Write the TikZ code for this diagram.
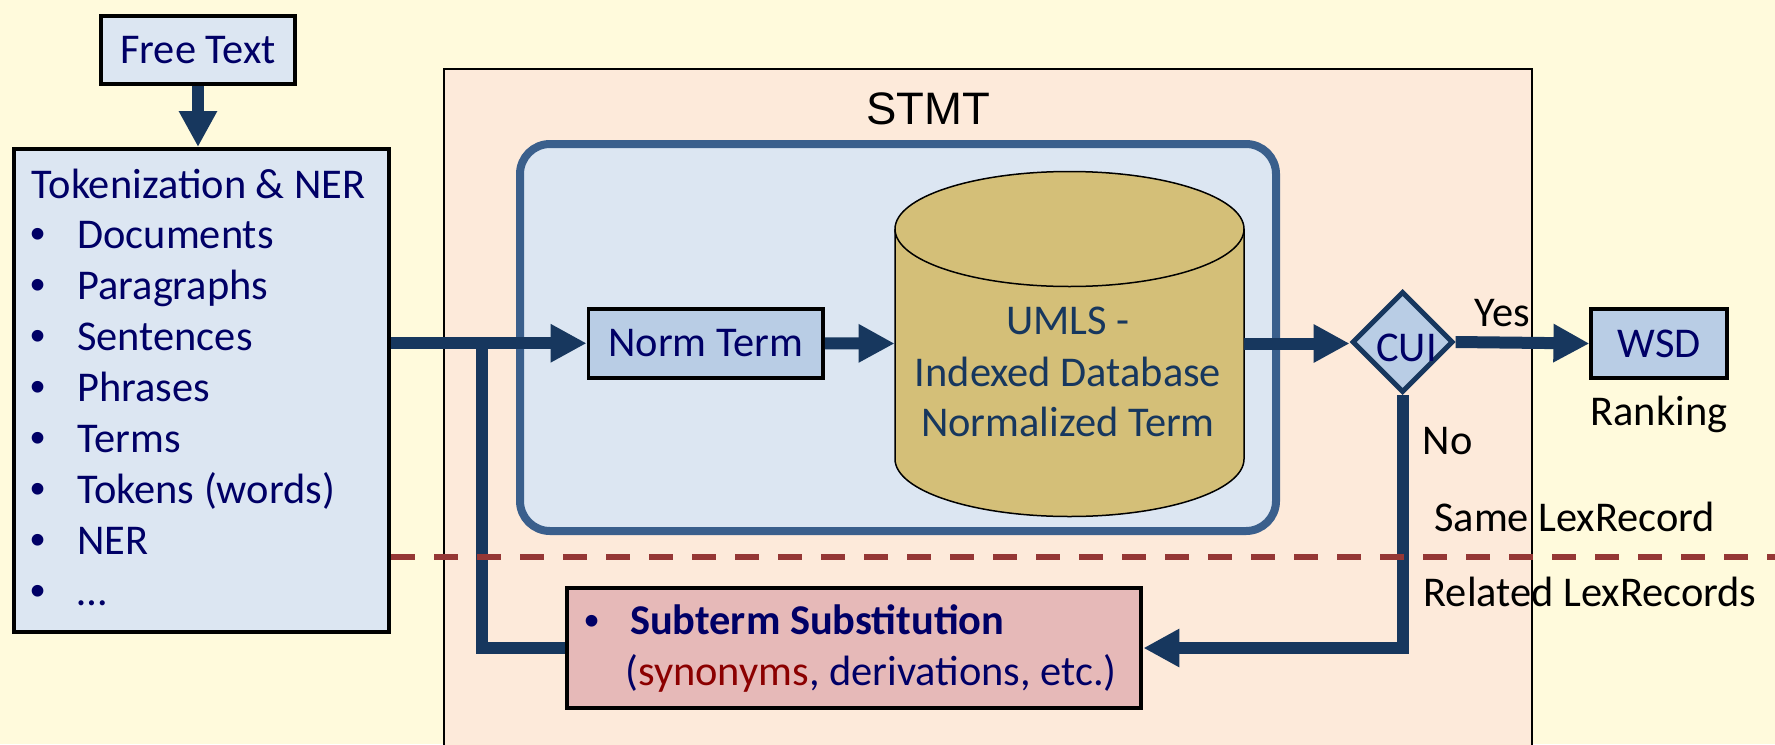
\documentclass[tikz,border=0pt]{standalone}
\usepackage{fontspec}
\setmainfont{Carlito}
\newfontfamily\arialfont{Liberation Sans}
\usetikzlibrary{arrows.meta,shapes.geometric}
\definecolor{bgc}{HTML}{FFFADC}
\definecolor{peach}{HTML}{FDEADA}
\definecolor{lbA}{HTML}{DCE6F2}
\definecolor{lbB}{HTML}{B9CDE5}
\definecolor{innerc}{HTML}{3A5F8C}
\definecolor{gold}{HTML}{D4BF78}
\definecolor{pinkc}{HTML}{E6B9B8}
\definecolor{dashc}{HTML}{953735}
\definecolor{arrowc}{HTML}{17375E}
\definecolor{navy}{HTML}{000066}
\definecolor{dbtext}{HTML}{17375E}
\definecolor{synred}{HTML}{8B0000}
\newcommand\mainfs{\fontsize{21.2pt}{25.5pt}\selectfont}
\begin{document}
\begin{tikzpicture}[x=0.5pt,y=-0.5pt,
  conn/.style={draw=arrowc, line width=6pt, line join=miter},
  tipA/.style={-{Triangle[width=18pt,length=18pt]}},
  box/.style={draw=black, line width=2pt, inner sep=0pt},
  item/.style={font=\mainfs, text=navy, anchor=base west, inner sep=0pt},
  bul/.style={font=\arialfont\fontsize{21.5pt}{25pt}\selectfont, text=navy, anchor=base west, inner sep=0pt},
  lbl/.style={font=\mainfs, text=black, anchor=base, inner sep=0pt},
  dbl/.style={font=\mainfs, text=dbtext, anchor=base, inner sep=0pt}
]
\useasboundingbox (0,0) rectangle (1775,744);
\clip (0,0) rectangle (1775,744);
\fill[bgc] (0,0) rectangle (1775,744);

% STMT container
\node[draw=black, line width=1pt, fill=peach, minimum width=544pt, minimum height=345.5pt, inner sep=0pt] (stmt) at (988,414.5) {};
\node[font=\arialfont\fontsize{22.75pt}{27pt}\selectfont, anchor=base, inner sep=0pt] (stmtlbl) at (928,124) {STMT};

% inner rounded box
\node[draw=innerc, line width=4pt, fill=lbA, rounded corners=15pt, minimum width=378pt, minimum height=193.5pt, inner sep=0pt] (inner) at (898,337.5) {};

% Free text
\node[box, fill=lbA, minimum width=97pt, minimum height=34pt, font=\mainfs, text=navy] (free) at (198,50) {Free Text};

% Tokenization box
\node[box, fill=lbA, minimum width=187.75pt, minimum height=241.5pt] (tok) at (201.25,390.5) {};
\node[item] (toktitle) at (31.4,198) {Tokenization \& NER};
\foreach \txt/\yy [count=\i] in {Documents/248, Paragraphs/299, Sentences/350, Phrases/401, Terms/452, Tokens (words)/503, NER/554, …/605} {
  \node[bul] (bul\i) at (30,\yy) {•};
  \node[item] (itm\i) at (77,\yy) {\txt};
}

% Norm Term
\node[box, line width=1.75pt, fill=lbB, minimum width=117.35pt, minimum height=34.5pt, font=\mainfs, text=navy] (norm) at (705.7,343.25) {Norm Term};

% Database cylinder
\node[minimum width=174.5pt, minimum height=172.5pt, inner sep=0pt] (db) at (1069.5,343.5) {};
\path[draw=black, line width=0.75pt, fill=gold] (895,229) -- (895,459)
  arc[start angle=180, end angle=360, x radius=87.25pt, y radius=28.75pt] -- (1244,229)
  arc[start angle=0, end angle=180, x radius=87.25pt, y radius=28.75pt] -- cycle;
\draw[line width=0.75pt] (895,229) arc[start angle=180, end angle=360, x radius=87.25pt, y radius=28.75pt];
\node[dbl] (db1) at (1068,334.5) {UMLS -};
\node[dbl] (db2) at (1068,386.5) {Indexed Database};
\node[dbl] (db3) at (1068,436) {Normalized Term};

% CUI diamond
\node[diamond, draw=arrowc, line width=2.5pt, fill=lbB, minimum width=50.5pt, minimum height=50.5pt, inner sep=0pt] (cui) at (1402.6,342) {};
\node[font=\mainfs, text=navy, anchor=base, inner sep=0pt] (cuitxt) at (1406.5,361.5) {CUI};

% WSD
\node[box, fill=lbB, minimum width=67.7pt, minimum height=34.5pt, font=\mainfs, text=navy] (wsd) at (1659.1,343.5) {WSD};

% Subterm Substitution
\node[box, fill=pinkc, minimum width=287.3pt, minimum height=60pt] (sub) at (854.1,648) {};
\node[bul] (subbul) at (584,635) {•};
\node[item, font=\mainfs\bfseries] (subt1) at (629.6,634.7) {Subterm Substitution};
\node[item] (subt2) at (625,685.5) {(\textcolor{synred}{synonyms}, derivations, etc.)};

% connectors
\coordinate (branch) at (482,343.25);
\draw[conn, tipA] (free.south) -- (free.south |- tok.north);
\draw[conn, tipA] (norm.west -| tok.east) -- (norm.west);
\draw[conn] (branch) -- (branch |- sub.west) -- (sub.west);
\draw[conn, tipA] (norm.east) -- (db.west);
\draw[conn, tipA] (db.east) -- (db.east -| cui.west);
\draw[conn, tipA] (cui.east) -- (wsd.west);
\draw[conn, tipA] (cui.south) |- (sub.east);

% dashed separator
\coordinate (dashL) at (391,557);
\coordinate (dashR) at (1775,557);
\draw[dashc, line width=2.75pt, dash pattern=on 12pt off 9.5pt] (dashL) -- (dashR);

% labels
\node[lbl] (yes) at (1502.4,326) {Yes};
\node[lbl] (no) at (1447.5,454) {No};
\node[lbl] (rank) at (1659,425) {Ranking};
\node[lbl] (same) at (1574.7,531.7) {Same LexRecord};
\node[lbl] (rel) at (1590,606) {Related LexRecords};
\end{tikzpicture}
\end{document}
